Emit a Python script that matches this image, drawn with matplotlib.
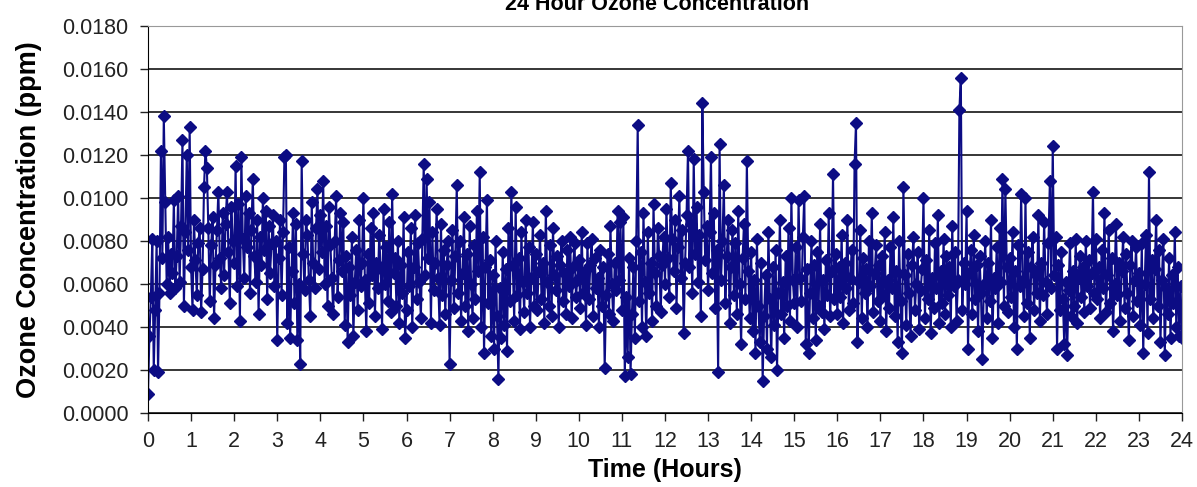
import numpy as np
import matplotlib
matplotlib.use("Agg")
import matplotlib.pyplot as plt

plt.rcParams['font.family'] = ['Liberation Sans', 'DejaVu Sans']

# ozone readings in ppb (30 per hour, last one at 24 h)
hour_00 = [0.9, 3.6, 5.4, 8.1, 2.0, 4.8, 8.0, 1.9, 5.6, 12.2, 7.2, 13.8, 9.8, 6.0, 8.2, 5.6, 7.4, 6.5, 9.9, 5.8, 7.3, 10.1, 6.1, 8.7, 12.7, 5.0, 8.4, 12.0, 7.6, 13.3]
hour_01 = [6.8, 4.8, 9.0, 7.1, 5.5, 7.9, 8.6, 4.7, 6.7, 10.5, 12.2, 11.4, 8.6, 5.2, 7.8, 9.1, 4.4, 6.9, 8.5, 10.3, 7.2, 5.8, 9.3, 6.4, 8.8, 10.3, 7.5, 5.1, 9.6, 8.0]
hour_02 = [7.0, 11.5, 5.9, 9.7, 4.3, 11.9, 8.1, 6.3, 10.1, 7.7, 9.3, 5.6, 8.5, 10.9, 7.3, 6.1, 9.0, 4.6, 8.2, 6.9, 10.0, 7.6, 9.4, 5.3, 8.7, 6.5, 7.9, 9.2, 5.9, 8.0]
hour_03 = [3.4, 7.2, 9.0, 5.5, 8.4, 11.9, 12.0, 4.2, 7.7, 3.5, 6.6, 9.3, 5.1, 8.8, 3.4, 6.0, 2.3, 11.7, 7.4, 5.7, 9.0, 8.3, 6.2, 4.5, 9.8, 7.0, 5.8, 8.6, 10.4, 6.7]
hour_04 = [9.2, 7.5, 10.8, 6.0, 8.7, 5.0, 9.6, 7.8, 6.3, 4.6, 8.0, 10.1, 5.4, 7.1, 9.3, 6.6, 8.9, 4.1, 7.3, 3.3, 6.8, 5.5, 8.2, 3.6, 6.1, 7.6, 4.8, 9.0, 5.9, 7.0]
hour_05 = [10.0, 6.2, 3.8, 7.4, 5.1, 8.6, 6.4, 9.3, 4.5, 7.0, 5.8, 8.3, 6.7, 3.9, 9.5, 6.0, 7.7, 5.2, 8.9, 4.7, 10.2, 6.5, 7.2, 5.0, 8.0, 4.2, 6.9, 5.6, 9.1, 3.5]
hour_06 = [4.8, 7.5, 5.9, 8.6, 4.0, 6.8, 9.2, 5.3, 7.9, 6.1, 4.4, 8.1, 11.6, 6.4, 10.9, 7.2, 9.8, 4.2, 8.4, 5.7, 7.0, 9.5, 6.3, 4.1, 8.8, 5.5, 7.6, 4.6, 6.9, 8.0]
hour_07 = [2.3, 6.2, 8.5, 4.9, 7.3, 10.6, 5.6, 8.0, 4.3, 6.5, 9.1, 5.0, 7.4, 3.8, 8.7, 6.0, 4.4, 7.8, 5.3, 9.4, 6.6, 11.2, 4.0, 8.2, 2.8, 6.8, 9.9, 5.1, 7.1, 3.6]
hour_08 = [6.4, 3.0, 8.0, 4.5, 1.6, 5.8, 3.5, 7.5, 4.1, 6.7, 2.9, 8.6, 5.2, 10.3, 6.9, 4.3, 9.6, 5.5, 7.2, 3.9, 8.4, 6.1, 4.7, 9.0, 5.6, 7.7, 4.0, 6.3, 8.9, 5.0]
hour_09 = [7.4, 4.8, 6.6, 8.3, 5.3, 7.0, 4.2, 9.4, 6.1, 5.0, 7.8, 4.5, 8.6, 6.4, 5.7, 7.3, 4.0, 6.9, 8.0, 5.2, 6.5, 4.6, 7.6, 5.9, 8.2, 4.4, 6.8, 7.9, 5.4, 6.2]
hour_10 = [7.1, 4.9, 8.4, 5.6, 6.6, 4.1, 7.9, 5.3, 6.9, 8.1, 4.5, 7.2, 5.8, 6.3, 4.0, 7.6, 5.0, 6.8, 2.1, 5.5, 7.4, 4.6, 8.7, 6.0, 4.3, 7.0, 5.7, 9.4, 6.2, 8.9]
hour_11 = [4.8, 9.1, 1.7, 5.4, 2.6, 7.2, 1.8, 4.6, 6.8, 3.5, 8.0, 13.4, 5.2, 7.5, 4.0, 9.3, 6.1, 3.6, 8.4, 5.6, 7.0, 4.3, 9.7, 6.5, 5.0, 8.6, 7.3, 4.7, 6.9, 8.2]
hour_12 = [6.0, 9.5, 7.2, 5.4, 10.7, 8.1, 6.6, 9.0, 4.9, 7.7, 10.1, 6.3, 8.5, 3.7, 7.0, 9.2, 12.2, 6.8, 8.8, 5.6, 11.8, 7.4, 9.6, 6.1, 8.3, 4.5, 14.4, 10.3, 7.1, 8.7]
hour_13 = [5.7, 8.4, 11.9, 6.5, 9.3, 4.9, 7.6, 1.9, 12.5, 6.2, 8.0, 10.6, 5.1, 7.3, 9.0, 4.2, 6.8, 8.5, 5.5, 7.9, 4.6, 9.4, 6.0, 3.2, 7.2, 8.8, 5.3, 11.7, 6.6, 4.4]
hour_14 = [7.5, 3.8, 6.2, 2.8, 8.1, 5.0, 3.3, 7.0, 1.5, 4.5, 6.4, 3.0, 8.4, 5.3, 2.6, 6.8, 4.1, 7.6, 2.0, 5.6, 9.0, 4.6, 6.1, 3.5, 7.3, 5.0, 8.6, 4.3, 10.0, 6.2]
hour_15 = [5.1, 7.7, 4.0, 9.9, 6.3, 5.2, 8.2, 10.1, 3.2, 6.7, 2.8, 5.6, 8.0, 4.4, 6.9, 3.4, 7.5, 5.0, 8.8, 4.7, 6.2, 3.9, 7.1, 5.5, 9.3, 4.5, 6.6, 11.1, 5.3, 7.4]
hour_16 = [4.6, 6.8, 5.4, 8.3, 4.2, 7.0, 5.8, 9.0, 4.8, 6.3, 7.6, 5.1, 11.6, 13.5, 3.3, 6.1, 8.5, 4.4, 7.2, 5.6, 6.7, 4.0, 8.0, 5.9, 9.3, 4.7, 6.5, 7.8, 5.2, 6.9]
hour_17 = [4.3, 7.3, 5.5, 8.4, 3.8, 6.2, 4.9, 7.7, 5.8, 9.1, 4.5, 6.6, 3.3, 8.0, 5.2, 2.8, 10.5, 6.4, 4.1, 7.4, 5.6, 3.6, 6.9, 8.2, 4.8, 6.0, 7.5, 3.9, 5.7, 6.7]
hour_18 = [10.0, 4.4, 7.1, 5.3, 8.5, 3.7, 6.3, 4.9, 7.9, 5.8, 9.2, 4.2, 6.6, 5.1, 8.1, 4.6, 7.3, 5.5, 6.8, 4.0, 8.7, 5.9, 7.5, 4.3, 6.2, 14.1, 15.6, 4.8, 7.0, 6.0]
hour_19 = [9.4, 3.0, 6.5, 7.6, 4.6, 8.3, 5.3, 6.9, 3.8, 7.3, 5.6, 2.5, 6.0, 8.0, 4.4, 7.0, 5.2, 9.0, 3.5, 6.3, 5.8, 7.7, 4.2, 8.6, 6.1, 10.9, 5.0, 10.4, 6.8, 4.7]
hour_20 = [7.2, 5.4, 8.4, 4.0, 6.6, 3.0, 7.8, 5.9, 10.2, 6.2, 4.5, 10.0, 5.1, 7.5, 3.5, 6.8, 8.2, 4.8, 6.4, 5.6, 9.2, 4.3, 7.0, 5.5, 8.9, 6.1, 4.6, 7.9, 10.8, 5.8]
hour_21 = [12.4, 6.4, 8.2, 3.0, 6.9, 4.8, 7.5, 5.3, 3.2, 6.1, 2.7, 5.7, 7.9, 4.5, 6.6, 5.0, 8.1, 4.2, 6.3, 7.3, 5.4, 6.8, 4.7, 8.0, 5.9, 7.1, 4.9, 6.5, 10.3, 5.6]
hour_22 = [8.1, 5.3, 6.8, 4.4, 7.6, 5.8, 9.3, 4.7, 6.4, 8.5, 5.1, 7.2, 3.8, 6.0, 8.8, 5.5, 7.0, 4.3, 6.6, 8.2, 4.9, 7.4, 5.6, 3.4, 6.9, 8.0, 4.5, 6.2, 7.7, 5.2]
hour_23 = [6.5, 4.1, 7.9, 2.8, 6.0, 8.3, 3.7, 11.2, 5.3, 7.1, 4.4, 6.7, 9.0, 5.0, 7.6, 3.3, 6.2, 8.1, 2.7, 5.8, 4.6, 7.2, 3.5, 6.4, 5.1, 8.4, 4.0, 6.8, 3.6, 5.9]
hour_24 = [3.5]

ozone_ppb = (hour_00 + hour_01 + hour_02 + hour_03 + hour_04 + hour_05 + hour_06 + hour_07
             + hour_08 + hour_09 + hour_10 + hour_11 + hour_12 + hour_13 + hour_14 + hour_15
             + hour_16 + hour_17 + hour_18 + hour_19 + hour_20 + hour_21 + hour_22 + hour_23 + hour_24)
ozone = np.array(ozone_ppb) / 1000.0
time_h = np.linspace(0, 24, len(ozone))

fig = plt.figure(figsize=(11.97, 4.87), dpi=100)
ax = fig.add_axes([148 / 1197, 74 / 487, 1034 / 1197, 387 / 487])

ax.plot(time_h, ozone, color='#0c0c84', lw=1.5, marker='D', ms=6, mec='#0c0c84', mfc='#0c0c84')

ax.set_xlim(0, 24)
ax.set_ylim(0, 0.018)
ax.set_xticks(range(0, 25))
ax.set_yticks(np.arange(0, 0.0181, 0.002))
ax.yaxis.set_major_formatter(plt.FuncFormatter(lambda v, p: f'{v:.4f}'))
ax.grid(axis='y', color='black', lw=1.1)
ax.set_axisbelow(True)

for s in ['top', 'right']:
    ax.spines[s].set_color('#999999')
ax.spines['left'].set_color('black')
ax.spines['bottom'].set_color('black')
ax.tick_params(direction='out', length=6, width=1, labelsize=15.5, colors='#222222')
ax.tick_params(axis='y', pad=8)
ax.tick_params(axis='x', pad=7)

ax.set_xlabel('Time (Hours)', fontsize=18, fontweight='bold', labelpad=4)
ax.set_ylabel('Ozone Concentration (ppm)', fontsize=19.5, fontweight='bold', labelpad=14)
fig.text(0.549, 1 - 10 / 487, '24 Hour Ozone Concentration', ha='center', va='baseline',
         fontsize=15.5, fontweight='bold')

fig.savefig('out.png', dpi=100)
